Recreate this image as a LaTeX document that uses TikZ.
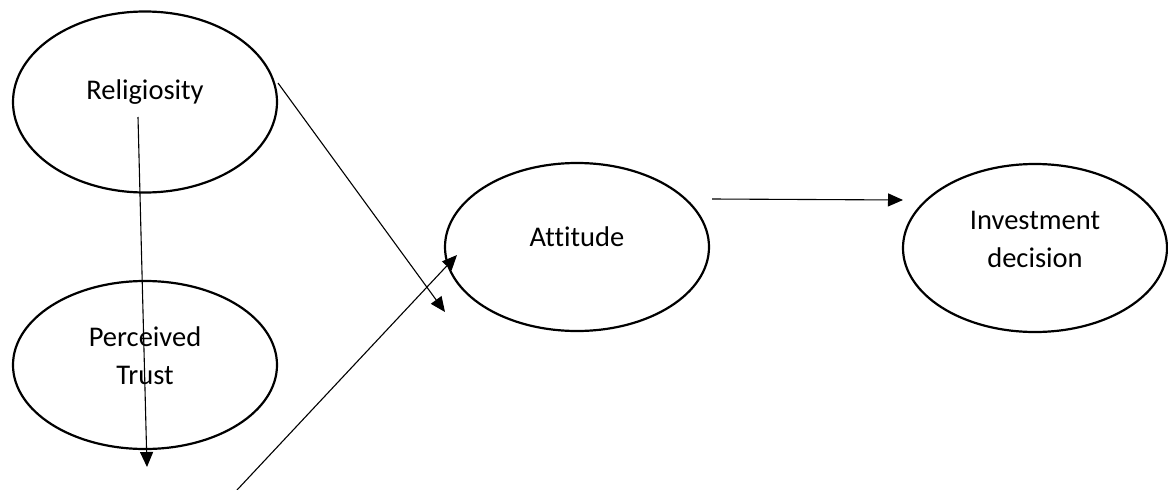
\documentclass[tikz,border=0pt]{standalone}
\usepackage{fontspec}
\setmainfont{Carlito}[Ligatures={NoCommon}]
\usetikzlibrary{arrows.meta, shapes.geometric}

\begin{document}
\begin{tikzpicture}[
    x=1pt, y=-1pt,
    every node/.style={font=\fontsize{28.5}{38}\selectfont},
    construct/.style={ellipse, draw, line width=2.2pt, minimum width=264pt,
        minimum height=168pt, inner sep=0pt},
    txt/.style={align=center, inner sep=0pt},
    path/.style={-{Triangle[length=15pt, width=13pt]}, line width=1.1pt}
]
\useasboundingbox (0,0) rectangle (1168,490);

% --- Constructs ---
\node[construct, minimum height=181pt] (rel) at (145,102) {};
\node[construct] (trust) at (145,365) {};
\node[construct] (att) at (577,247) {};
\node[construct] (inv) at (1035,248) {};

% --- Labels ---
\node[txt] (reltext) at ([yshift=10pt]rel.center) {Religiosity};
\node[txt] (trusttext) at ([yshift=9pt]trust.center) {Perceived\\Trust};
\node[txt] (atttext) at ([yshift=10pt]att.center) {Attitude};
\node[txt] (invtext) at ([yshift=9pt]inv.center) {Investment\\decision};

% --- Free ends ---
\coordinate (relin) at (138,117);
\coordinate (relout) at (278,83);
\coordinate (trustout) at (147,467);
\coordinate (relend) at (445,312);
\coordinate (lowstart) at (237,490);
\coordinate (attin) at (457,255);
\coordinate (attout) at (712,199);
\coordinate (invin) at (903,200);

% --- Paths ---
\draw[path] (relin) -- (trustout);
\draw[path] (relout) -- (relend);
\draw[path] (lowstart) -- (attin);
\draw[path] (attout) -- (invin);

\end{tikzpicture}
\end{document}
